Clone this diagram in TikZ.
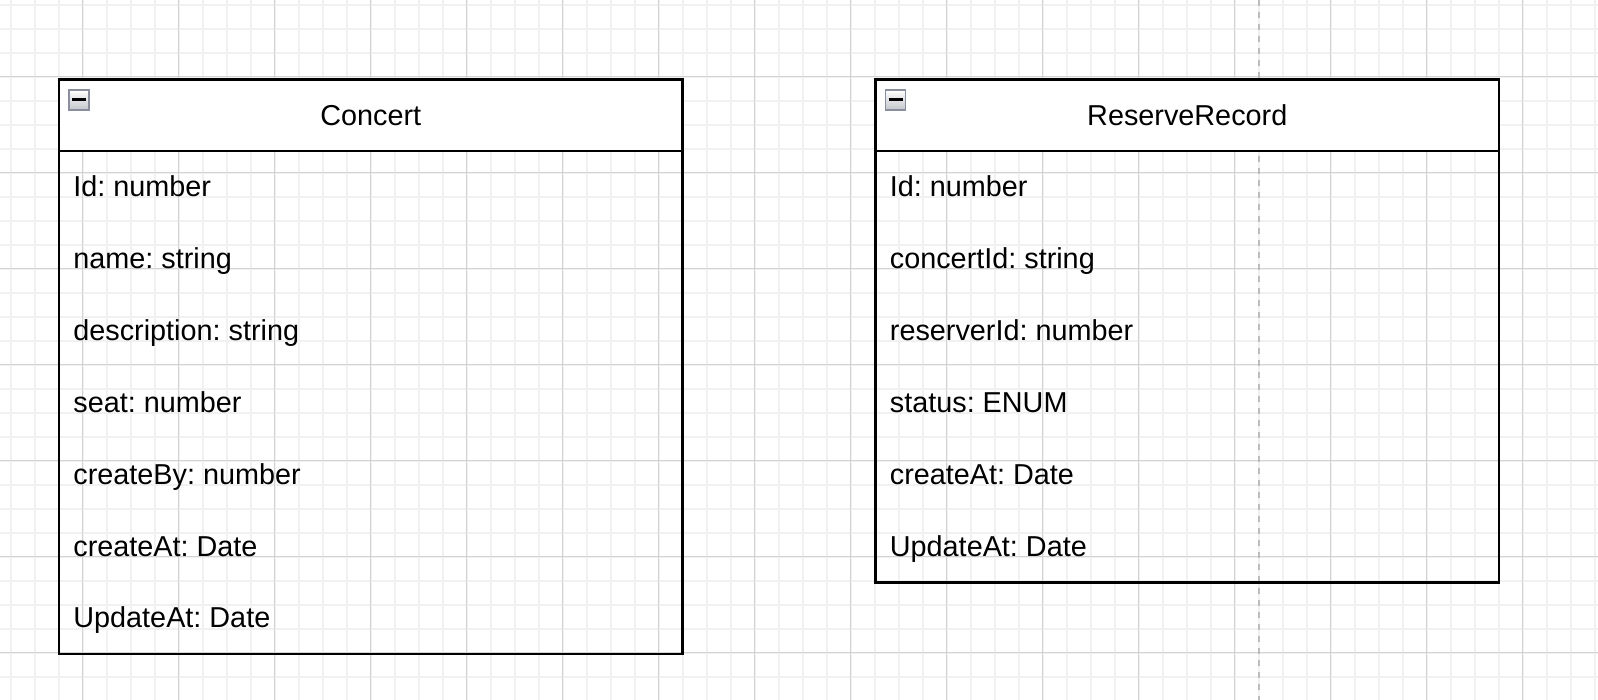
\documentclass[tikz,border=0pt]{standalone}
\usepackage{fontspec}
\setmainfont{Liberation Sans}
\definecolor{minorgrid}{HTML}{F1F1F1}
\definecolor{majorgrid}{HTML}{D3D3D3}
\definecolor{pageline}{HTML}{BDBDBD}
\definecolor{iconborder}{HTML}{8B8E9C}
\definecolor{iconbottom}{HTML}{C4C6CC}
\frenchspacing
\begin{document}
\begin{tikzpicture}[x=0.5pt,y=-0.5pt,
  font=\fontsize{14.4pt}{17pt}\selectfont,
  header/.style={draw=black, line width=1.25pt, fill=white, minimum width=311.75pt, minimum height=35.75pt, inner sep=0pt, outer sep=0pt},
  body/.style={draw=black, line width=1.25pt, minimum width=311.75pt, inner sep=0pt, outer sep=0pt},
  field/.style={anchor=base west, inner sep=0pt},
  icon/.style={draw=iconborder, line width=0.8pt, top color=white, bottom color=iconbottom, minimum size=10pt, inner sep=0pt},
  minusbar/.style={line width=1.5pt, black},
  minorline/.style={minorgrid, line width=1pt},
  majorline/.style={majorgrid, line width=0.75pt}
]
\useasboundingbox (0,0) rectangle (1598,700);
\fill[white] (0,0) rectangle (1598,700);
% grid
\foreach \i in {0,...,66} \draw[minorline] ({10.7+24*\i},0) -- ({10.7+24*\i},700);
\foreach \i in {0,...,28} \draw[minorline] (0,{4.7+24*\i}) -- (1598,{4.7+24*\i});
\foreach \i in {0,...,15} \draw[majorline] ({82.7+96*\i},0) -- ({82.7+96*\i},700);
\foreach \i in {0,...,6} \draw[majorline] (0,{76.7+96*\i}) -- (1598,{76.7+96*\i});
% page break line
\draw[pageline, line width=1pt, dash pattern=on 3pt off 3pt] (1259,0) -- (1259,700);

% Concert
\node[body, minimum height=251.5pt] (cbody) at (370.75,402.5) {};
\node[header] (chead) at (370.75,115.25) {Concert};
\node[icon] (cicon) at (79,99.8) {};
\draw[minusbar] ([xshift=-3.5pt]cicon.center) -- ([xshift=3.5pt]cicon.center);
\node[field] (c1) at (73,196.7) {Id: number};
\node[field] (c2) at (73,268.56) {name: string};
\node[field] (c3) at (73,340.42) {description: string};
\node[field] (c4) at (73,412.28) {seat: number};
\node[field] (c5) at (73,484.14) {createBy: number};
\node[field] (c6) at (73,556.0) {createAt: Date};
\node[field] (c7) at (73,627.86) {UpdateAt: Date};

% ReserveRecord
\node[body, minimum height=215.75pt] (rbody) at (1187.25,366.75) {};
\node[header] (rhead) at (1187.25,115.25) {ReserveRecord};
\node[icon] (ricon) at (895.5,99.8) {};
\draw[minusbar] ([xshift=-3.5pt]ricon.center) -- ([xshift=3.5pt]ricon.center);
\node[field] (r1) at (889.5,196.7) {Id: number};
\node[field] (r2) at (889.5,268.56) {concertId: string};
\node[field] (r3) at (889.5,340.42) {reserverId: number};
\node[field] (r4) at (889.5,412.28) {status: ENUM};
\node[field] (r5) at (889.5,484.14) {createAt: Date};
\node[field] (r6) at (889.5,556.0) {UpdateAt: Date};
\end{tikzpicture}
\end{document}
